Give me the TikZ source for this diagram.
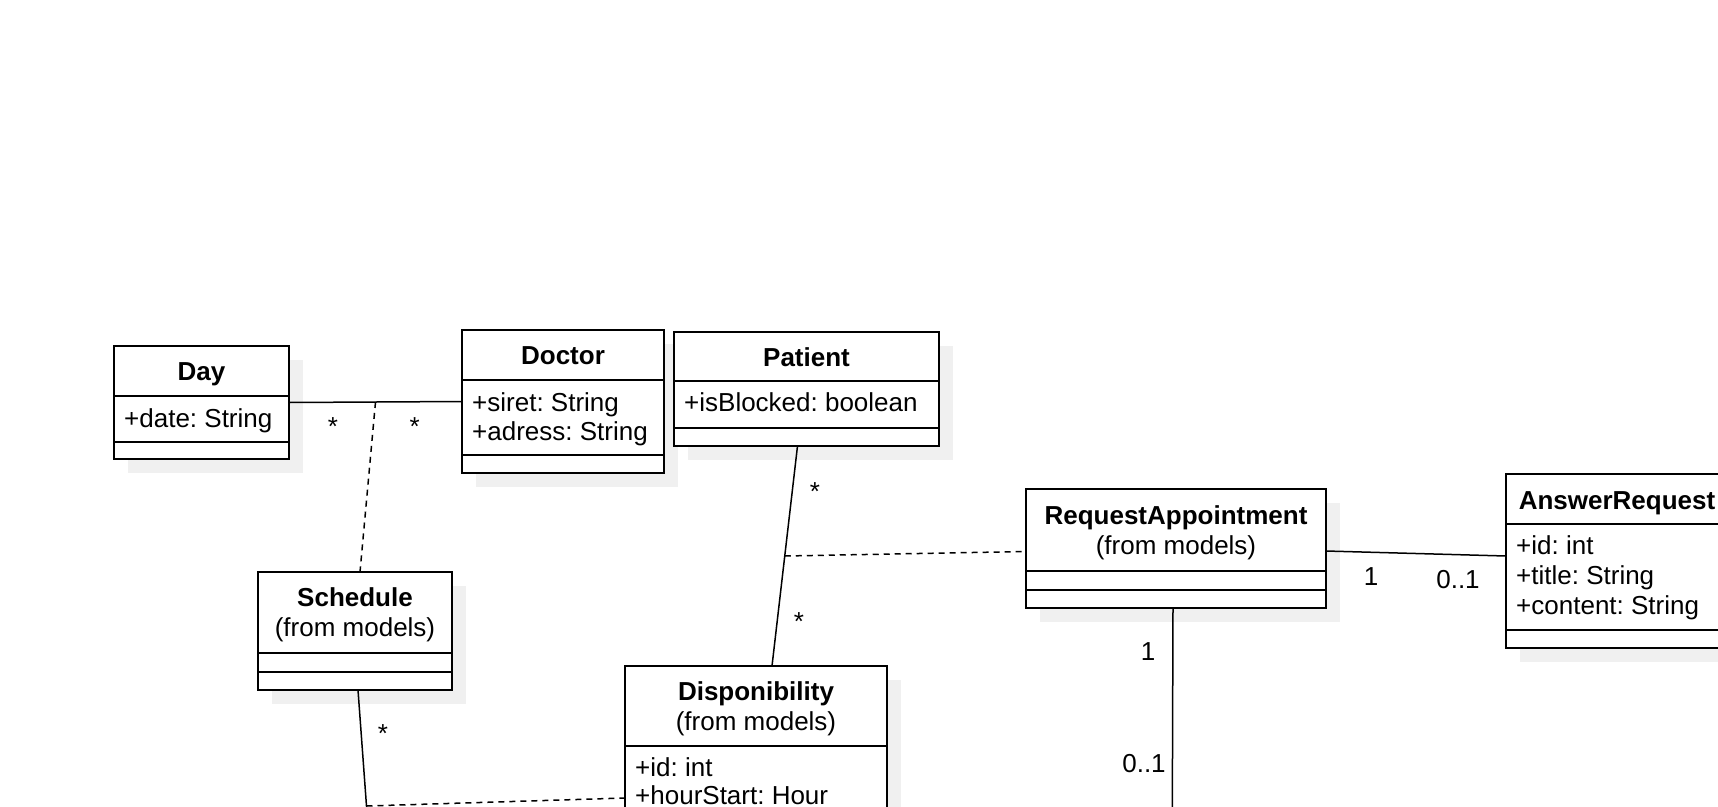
\documentclass[tikz,border=0pt]{standalone}
\usepackage{fontspec}
\setmainfont{Liberation Sans}
\usetikzlibrary{backgrounds,calc}
\definecolor{shadowgray}{RGB}{240,240,240}
\frenchspacing
\begin{document}
\begin{tikzpicture}[x=1pt,y=-1pt,
  font=\fontsize{26}{30}\selectfont\frenchspacing,
  cls/.style={draw, line width=1.8pt, fill=white, inner sep=0pt, outer sep=0pt, anchor=north west},
  title/.style={anchor=base, font=\fontsize{26}{30}\selectfont\bfseries, inner sep=0pt},
  sub/.style={anchor=base, inner sep=0pt},
  attr/.style={anchor=base west, inner sep=0pt},
  mult/.style={anchor=base, inner sep=0pt},
  divider/.style={line width=1.8pt},
  assoc/.style={line width=1.5pt},
  assocdash/.style={line width=1.5pt, dash pattern=on 6pt off 5pt},
  shadowbox/.style={fill=shadowgray, draw=none}
]
\useasboundingbox (0,0) rectangle (1718,806);
\clip (0,0) rectangle (1718,806);

% class boxes
\node[cls, minimum width=175pt, minimum height=113pt] (day) at (114,346) {};
\node[cls, minimum width=202pt, minimum height=143pt] (doctor) at (462,330) {};
\node[cls, minimum width=265pt, minimum height=114pt] (patient) at (674,332) {};
\node[cls, minimum width=194pt, minimum height=118pt] (sched) at (258,572) {};
\node[cls, minimum width=262pt, minimum height=220pt] (disp) at (625,666) {};
\node[cls, minimum width=300pt, minimum height=119pt] (ra) at (1026,489) {};
\node[cls, minimum width=232pt, minimum height=174pt] (ar) at (1506,474) {};

\begin{pgfonlayer}{background}
\foreach \n in {day,doctor,patient,sched,disp,ra,ar}{
  \fill[shadowbox] ([shift={(14,14)}]\n.north west) rectangle ([shift={(14,14)}]\n.south east);
}
\end{pgfonlayer}

% dividers
\foreach \n/\d in {day/50,day/96,doctor/50,doctor/125,patient/49,patient/96,sched/81,sched/100,disp/80,ra/82,ra/101,ar/50,ar/156}{
  \draw[divider] ([yshift=-\d pt]\n.north west) -- ([yshift=-\d pt]\n.north east);
}

% texts
\node[title] (dayT) at (201.5,380) {Day};
\node[attr] (dayA1) at (124,427) {+date: String};

\node[title] (docT) at (563,364) {Doctor};
\node[attr] (docA1) at (472,411) {+siret: String};
\node[attr] (docA2) at (472,440) {+adress: String};

\node[title] (patT) at (806.5,366) {Patient};
\node[attr] (patA1) at (684,411) {+isBlocked: boolean};

\node[title] (schT) at (355,606) {Schedule};
\node[sub] (schS) at (355,636) {(from models)};

\node[title] (dispT) at (756,700) {Disponibility};
\node[sub] (dispS) at (756,730) {(from models)};
\node[attr] (dispA1) at (635,776) {+id: int};
\node[attr] (dispA2) at (635,804) {+hourStart: Hour};

\node[title] (raT) at (1176,524) {RequestAppointment};
\node[sub] (raS) at (1176,554) {(from models)};

\node[title] (arT) at (1617,509) {AnswerRequest};
\node[attr] (arA1) at (1516,554) {+id: int};
\node[attr] (arA2) at (1516,584) {+title: String};
\node[attr] (arA3) at (1516,614) {+content: String};

% connectors
\draw[assoc] (day.east) -- (doctor.west);
\coordinate (m1) at ($(day.east)!0.5!(doctor.west)$);
\draw[assocdash] (m1) -- ([xshift=5pt]sched.north);

\coordinate (schedEnd) at (375,922);
\draw[assoc] ([xshift=3pt]sched.south) -- (schedEnd);
\coordinate (m2) at ($([xshift=3pt]sched.south)!0.5!(schedEnd)$);
\draw[assocdash] (m2) -- ([yshift=-22pt]disp.west);

\draw[assoc] ([xshift=-9pt]patient.south) -- ([xshift=16pt]disp.north);
\coordinate (m3) at ($([xshift=-9pt]patient.south)!0.5!([xshift=16pt]disp.north)$);
\draw[assocdash] (m3) -- ([yshift=-3pt]ra.west);

\draw[assoc] ([yshift=-2.5pt]ra.east) -- ([yshift=5pt]ar.west);

\coordinate (raEnd) at (1172,900);
\draw[assoc] ([xshift=-3pt]ra.south) -- (raEnd);

% multiplicities
\node[mult] (s1) at (333,435) {*};
\node[mult] (s2) at (414.6,435) {*};
\node[mult] (s3) at (383,742) {*};
\node[mult] (s4) at (815,500) {*};
\node[mult] (s5) at (799,630) {*};
\node[mult] (r1) at (1371,585) {1};
\node[mult] (r2) at (1458,588) {0..1};
\node[mult] (r3) at (1148,660) {1};
\node[mult] (r4) at (1144,772) {0..1};
\end{tikzpicture}
\end{document}
